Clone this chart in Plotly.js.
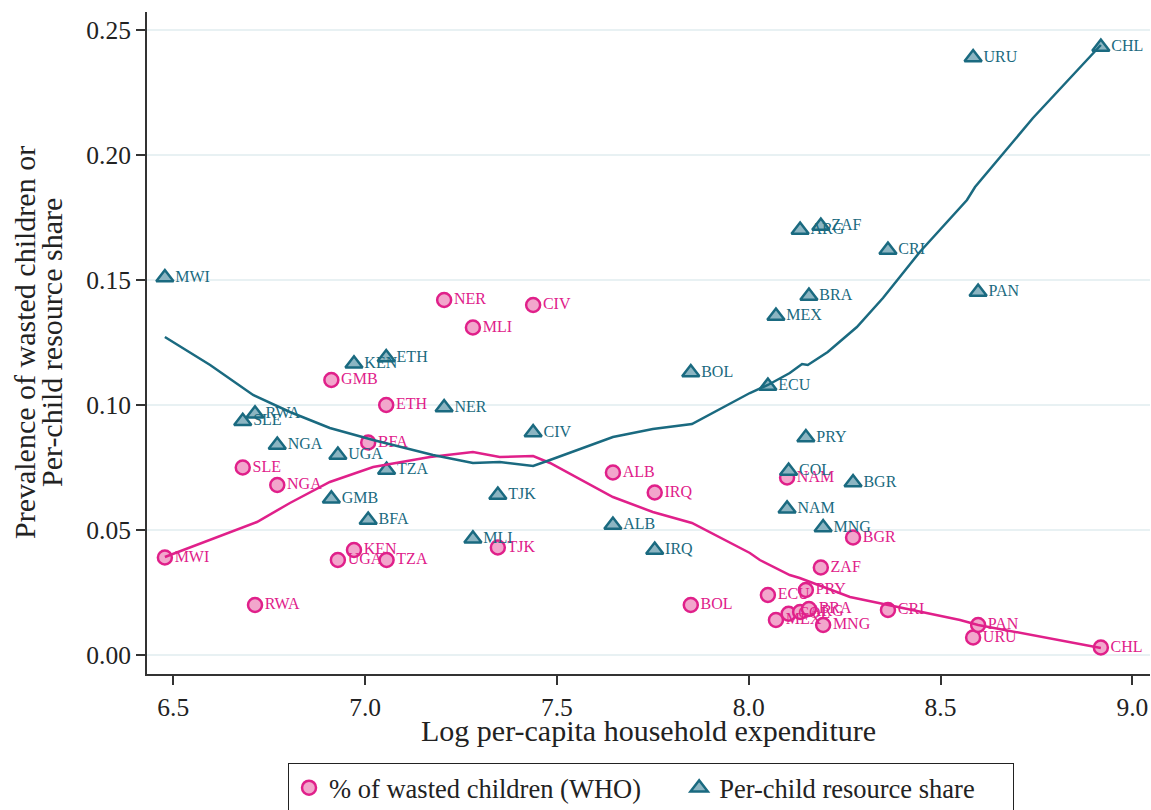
<!DOCTYPE html>
<html>
<head>
<meta charset="utf-8">
<script src="https://cdn.plot.ly/plotly-3.0.1.min.js"></script>
<style>
  html, body { margin: 0; padding: 0; background: #ffffff; }
  #chart { width: 1151px; height: 810px; }
</style>
</head>
<body>
<div id="chart"></div>
<script>
// Country codes
const countries = ["MWI","RWA","SLE","NGA","GMB","UGA","KEN","BFA","ETH","TZA","NER","MLI","TJK","CIV","ALB","IRQ","BOL","ECU","MEX","COL","NAM","ARG","PRY","BRA","ZAF","MNG","BGR","CRI","URU","PAN","CHL"];
// Log per-capita household expenditure
const logExp = [6.478,6.713,6.681,6.771,6.912,6.929,6.971,7.008,7.055,7.056,7.206,7.281,7.346,7.438,7.646,7.755,7.849,8.050,8.071,8.104,8.100,8.134,8.149,8.157,8.188,8.194,8.272,8.363,8.585,8.598,8.918];
// % of wasted children (WHO)
const wasted = [0.039,0.020,0.075,0.068,0.110,0.038,0.042,0.085,0.100,0.038,0.142,0.131,0.043,0.140,0.073,0.065,0.020,0.024,0.014,0.0165,0.071,0.0172,0.026,0.0184,0.035,0.012,0.047,0.018,0.007,0.012,0.003];
// Per-child resource share
const share = [0.151,0.0965,0.0935,0.084,0.0625,0.080,0.1165,0.054,0.119,0.074,0.099,0.0465,0.064,0.089,0.052,0.042,0.113,0.1076,0.1356,0.0736,0.0585,0.170,0.087,0.1436,0.1716,0.051,0.069,0.162,0.239,0.1452,0.2432];

// Smoothed fits
const wastedFitX = [6.478,6.674,6.718,6.804,6.908,7.021,7.169,7.281,7.351,7.438,7.482,7.646,7.750,7.852,8.003,8.029,8.107,8.133,8.264,8.551,8.598,8.918];
const wastedFitY = [0.0392,0.0508,0.0532,0.0608,0.0692,0.0752,0.0792,0.0812,0.0792,0.0796,0.0768,0.0632,0.0572,0.0528,0.0408,0.038,0.032,0.0308,0.0232,0.014,0.012,0.0028];
const shareFitX = [6.478,6.596,6.708,6.804,6.908,7.021,7.177,7.281,7.351,7.438,7.482,7.646,7.750,7.852,8.003,8.050,8.107,8.139,8.154,8.206,8.282,8.350,8.446,8.569,8.590,8.741,8.918];
const shareFitY = [0.1272,0.116,0.104,0.0972,0.0908,0.086,0.080,0.0768,0.0772,0.0756,0.078,0.0872,0.0904,0.0924,0.1048,0.108,0.1128,0.1164,0.116,0.1212,0.1312,0.1428,0.1612,0.182,0.1872,0.2148,0.244];

const xTickVals = [6.5,7.0,7.5,8.0,8.5,9.0];
const yTickVals = [0.00,0.05,0.10,0.15,0.20,0.25];

const PINK = "#e0208a", PINK_FILL = "#f2a6cc";
const TEAL = "#1a6a80", TEAL_FILL = "#8cb5c2";
const FONT = "Liberation Serif, Times New Roman, serif";
const NB = "\u00a0";

const traces = [
  {
    x: logExp, y: wasted, text: countries, name: "% of wasted children (WHO)" + NB.repeat(5),
    type: "scatter", mode: "markers+text", textposition: "middle right",
    textfont: {family: FONT, size: 16, color: PINK},
    marker: {symbol: "circle", size: 14, color: PINK_FILL, line: {color: PINK, width: 2.5}},
    cliponaxis: false, hoverinfo: "skip"
  },
  {
    x: logExp, y: share, text: countries, name: "Per-child resource share" + NB.repeat(5),
    type: "scatter", mode: "markers+text", textposition: "middle right",
    textfont: {family: FONT, size: 16, color: TEAL},
    marker: {symbol: "triangle-up", size: 15, color: TEAL_FILL, line: {color: TEAL, width: 2.5}},
    cliponaxis: false, hoverinfo: "skip"
  },
  {
    x: wastedFitX, y: wastedFitY, type: "scatter", mode: "lines", showlegend: false,
    line: {color: PINK, width: 2.5}, hoverinfo: "skip"
  },
  {
    x: shareFitX, y: shareFitY, type: "scatter", mode: "lines", showlegend: false,
    line: {color: TEAL, width: 2.5}, hoverinfo: "skip"
  }
];

const layout = {
  width: 1151, height: 810,
  margin: {l: 147, r: 1, t: 12, b: 136, autoexpand: false},
  paper_bgcolor: "#ffffff", plot_bgcolor: "#ffffff",
  font: {family: FONT, color: "#222222"},
  showlegend: true,
  xaxis: {
    range: [6.4314, 9.0461], tickvals: xTickVals, tickformat: ".1f",
    ticks: "outside", ticklen: 9, tickwidth: 2, tickcolor: "#333333",
    showline: true, linecolor: "#333333", linewidth: 2, mirror: false,
    showgrid: false, zeroline: false, automargin: false,
    tickfont: {family: FONT, size: 25.5, color: "#222222"}
  },
  yaxis: {
    range: [-0.0076, 0.2572], tickvals: yTickVals, tickformat: ".2f",
    ticks: "outside", ticklen: 9, tickwidth: 2, tickcolor: "#333333",
    showline: true, linecolor: "#333333", linewidth: 2, mirror: false,
    showgrid: true, gridcolor: "#e8f1f3", gridwidth: 2, zeroline: false, automargin: false,
    tickfont: {family: FONT, size: 25.5, color: "#222222"}
  },
  legend: {
    orientation: "h", x: 0.1406, xanchor: "left", y: -0.1344, yanchor: "top",
    bgcolor: "#ffffff", bordercolor: "#222222", borderwidth: 1,
    font: {family: FONT, size: 26.5, color: "#222222"}
  },
  annotations: [
    {text: "Log per-capita household expenditure", xref: "paper", yref: "paper",
     x: 0.5, y: -0.0846, xanchor: "center", yanchor: "middle", showarrow: false,
     font: {family: FONT, size: 30, color: "#222222"}},
    {text: "Prevalence of wasted children or", xref: "paper", yref: "paper",
     x: -0.1226, y: 0.5, xanchor: "center", yanchor: "middle", textangle: -90, showarrow: false,
     font: {family: FONT, size: 30, color: "#222222"}},
    {text: "Per-child resource share", xref: "paper", yref: "paper",
     x: -0.0957, y: 0.5, xanchor: "center", yanchor: "middle", textangle: -90, showarrow: false,
     font: {family: FONT, size: 30, color: "#222222"}}
  ]
};

Plotly.newPlot("chart", traces, layout, {displayModeBar: false, staticPlot: true});
</script>
</body>
</html>
